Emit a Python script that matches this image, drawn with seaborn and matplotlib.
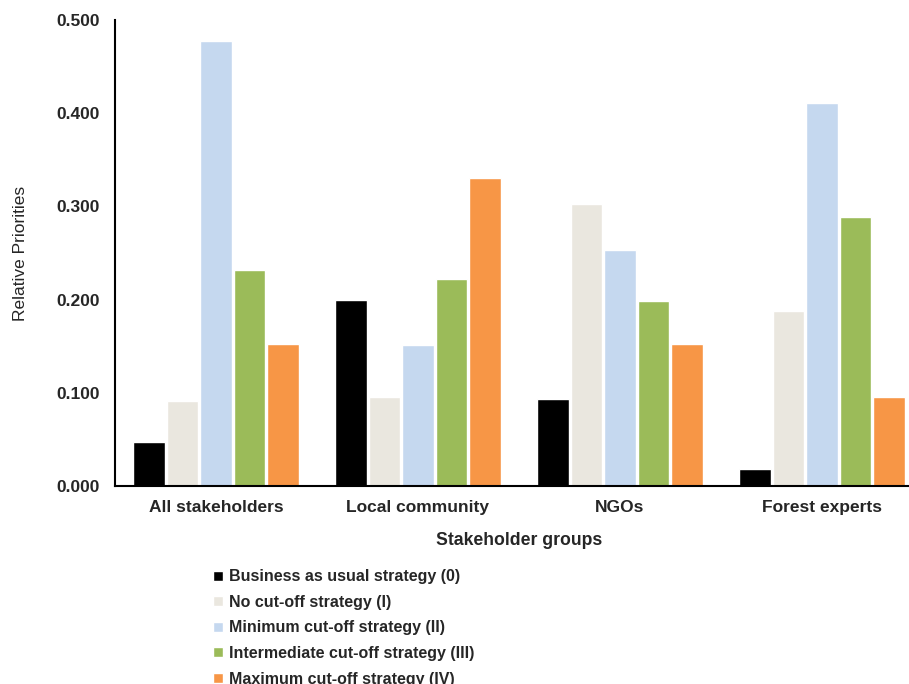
import matplotlib
matplotlib.use("Agg")
import matplotlib.pyplot as plt
import seaborn as sns
import pandas as pd
import numpy as np

groups = ["All stakeholders", "Local community", "NGOs", "Forest experts"]
strategies = ["Business as usual strategy (0)", "No cut-off strategy (I)",
              "Minimum cut-off strategy (II)", "Intermediate cut-off strategy (III)",
              "Maximum cut-off strategy (IV)"]
bau = [0.047, 0.200, 0.093, 0.018]
no_cut = [0.091, 0.096, 0.303, 0.188]
min_cut = [0.478, 0.151, 0.253, 0.411]
inter_cut = [0.232, 0.222, 0.198, 0.289]
max_cut = [0.152, 0.331, 0.152, 0.095]
colors = ["#000000", "#EAE7DF", "#C5D8EF", "#9BBB59", "#F79646"]

rows = []
for s, vals in zip(strategies, [bau, no_cut, min_cut, inter_cut, max_cut]):
    for g, v in zip(groups, vals):
        rows.append({"group": g, "strategy": s, "value": v})
df = pd.DataFrame(rows)

sns.set_style("white")
plt.rcParams['font.family'] = ['Liberation Sans', 'DejaVu Sans']

fig = plt.figure(figsize=(9.09, 6.84), dpi=100)
W, H = 909, 684
ax = fig.add_axes([115 / W, (684 - 486) / H, 808 / W, 466 / H])

sns.barplot(data=df, x="group", y="value", hue="strategy", order=groups,
            hue_order=strategies, palette=colors, width=0.83, gap=0.05,
            saturation=1, ax=ax, legend=True, errorbar=None)

ax.set_ylim(0, 0.5)
ax.set_xlim(-0.5, 3.5)
ax.set_yticks(np.arange(0, 0.51, 0.1))
ax.set_yticklabels([f"{v:.3f}" for v in np.arange(0, 0.51, 0.1)],
                   fontsize=12.5, fontweight="bold")
ax.set_xticks(range(4))
ax.set_xticklabels(groups, fontsize=12.5, fontweight="bold")
ax.set_xticks([0.5, 1.5, 2.5], minor=True)
ax.tick_params(axis="x", which="major", length=0, pad=10)
ax.tick_params(axis="x", which="minor", length=5, width=1.2, color="black", direction="out")
ax.tick_params(axis="y", which="major", length=5, width=1.2, color="black", direction="out", pad=6)
for side in ["top", "right"]:
    ax.spines[side].set_visible(False)
for side in ["left", "bottom"]:
    ax.spines[side].set_color("black")
    ax.spines[side].set_linewidth(1.5)

ax.set_ylabel("Relative Priorities", fontsize=12.5, labelpad=20)
ax.set_xlabel("Stakeholder groups", fontsize=12.7, fontweight="bold", labelpad=12)

handles, labels = ax.get_legend_handles_labels()
ax.legend_.remove()
fig.legend(handles, labels, loc="upper left", bbox_to_anchor=(199 / W, 1 - 555 / H),
           frameon=False, prop={"weight": "bold", "size": 11.5},
           handlelength=0.6, handleheight=0.6, handletextpad=0.4, labelspacing=0.66)

fig.savefig("out.png", dpi=100)
